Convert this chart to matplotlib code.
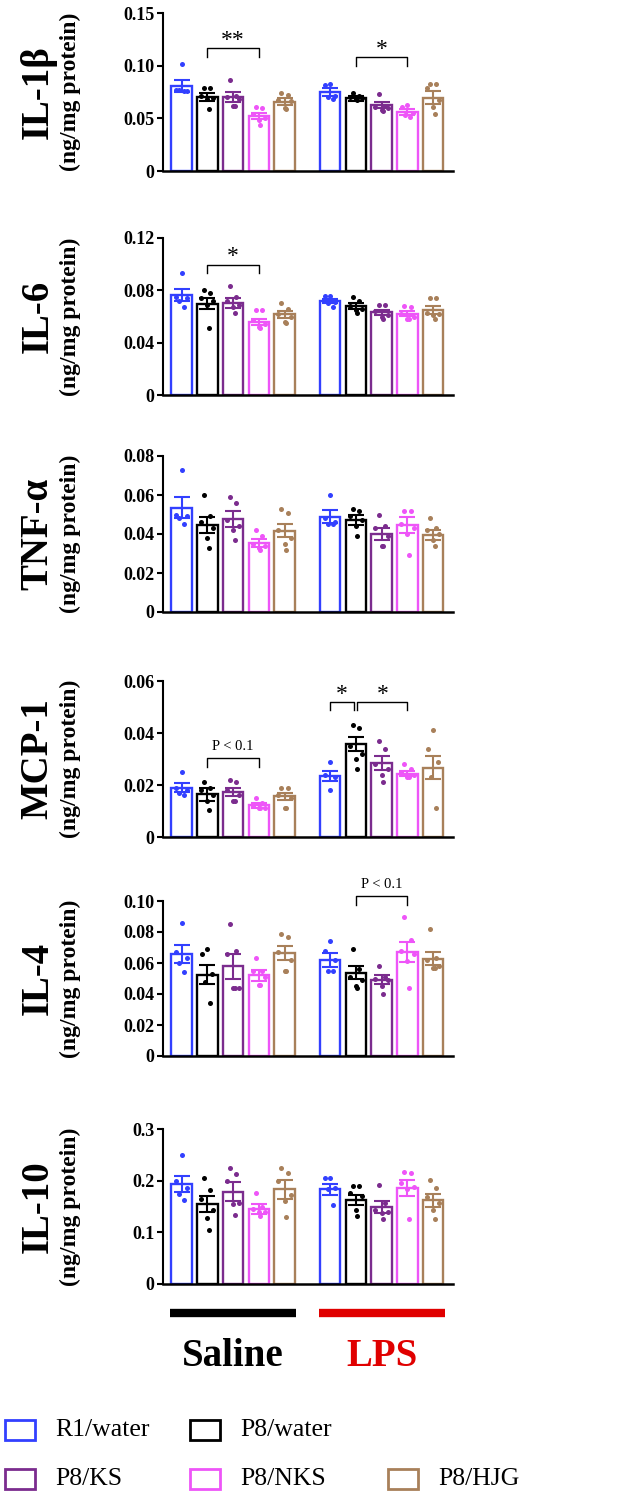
import numpy as np
import matplotlib
matplotlib.use('Agg')
import matplotlib.pyplot as plt
from matplotlib.patches import Rectangle
from matplotlib.transforms import blended_transform_factory

plt.rcParams['font.family'] = ['Liberation Serif', 'DejaVu Serif']

groups = ['R1/water', 'P8/water', 'P8/KS', 'P8/NKS', 'P8/HJG']
colors = ['#3240FF', '#000000', '#7B2C8E', '#EE55F8', '#A8805A']
conditions = ['Saline', 'LPS']
condition_colors = ['#000000', '#E00000']

cytokines = ['IL-1β', 'IL-6', 'TNF-α', 'MCP-1', 'IL-4', 'IL-10']
y_ticks = [[0, 0.05, 0.10, 0.15],
           [0, 0.04, 0.08, 0.12],
           [0, 0.02, 0.04, 0.06, 0.08],
           [0, 0.02, 0.04, 0.06],
           [0, 0.02, 0.04, 0.06, 0.08, 0.10],
           [0, 0.1, 0.2, 0.3]]
y_tick_labels = [['0', '0.05', '0.10', '0.15'],
                 ['0', '0.04', '0.08', '0.12'],
                 ['0', '0.02', '0.04', '0.06', '0.08'],
                 ['0', '0.02', '0.04', '0.06'],
                 ['0', '0.02', '0.04', '0.06', '0.08', '0.10'],
                 ['0', '0.1', '0.2', '0.3']]

# bar order: Saline (5 groups) then LPS (5 groups)
il1b_mean = [0.0807, 0.0706, 0.0700, 0.0520, 0.0658, 0.0747, 0.0690, 0.0627, 0.0563, 0.0696]
il1b_sem = [0.0057, 0.0038, 0.0047, 0.0027, 0.0032, 0.0038, 0.0022, 0.0031, 0.0027, 0.0060]
il1b_pts = [[0.102, 0.077, 0.076, 0.077, 0.076],
            [0.079, 0.079, 0.071, 0.069, 0.068, 0.059],
            [0.086, 0.071, 0.070, 0.068, 0.062, 0.062],
            [0.061, 0.060, 0.054, 0.050, 0.048, 0.044],
            [0.074, 0.072, 0.067, 0.066, 0.060, 0.059],
            [0.083, 0.082, 0.071, 0.070, 0.068],
            [0.074, 0.071, 0.070, 0.069, 0.068, 0.067],
            [0.073, 0.062, 0.061, 0.060, 0.058, 0.057],
            [0.063, 0.061, 0.055, 0.053, 0.051],
            [0.083, 0.083, 0.079, 0.067, 0.061, 0.054]]

il6_mean = [0.0762, 0.0698, 0.0703, 0.0558, 0.0617, 0.0718, 0.0680, 0.0632, 0.0622, 0.0652]
il6_sem = [0.0046, 0.0042, 0.0037, 0.0025, 0.0025, 0.0018, 0.0026, 0.0018, 0.0018, 0.0030]
il6_pts = [[0.093, 0.075, 0.074, 0.072, 0.067],
           [0.080, 0.078, 0.074, 0.072, 0.069, 0.051],
           [0.083, 0.075, 0.072, 0.069, 0.067, 0.063],
           [0.065, 0.065, 0.057, 0.054, 0.052, 0.051],
           [0.070, 0.066, 0.062, 0.060, 0.056, 0.055],
           [0.076, 0.076, 0.071, 0.070, 0.067],
           [0.075, 0.072, 0.068, 0.066, 0.065, 0.063],
           [0.069, 0.069, 0.064, 0.061, 0.060, 0.058],
           [0.068, 0.067, 0.062, 0.060, 0.058, 0.058],
           [0.074, 0.074, 0.063, 0.062, 0.061, 0.058]]

tnf_mean = [0.0535, 0.0446, 0.0479, 0.0352, 0.0417, 0.0489, 0.0472, 0.0398, 0.0446, 0.0395]
tnf_sem = [0.0053, 0.0043, 0.0041, 0.0021, 0.0034, 0.0034, 0.0025, 0.0031, 0.0039, 0.0025]
tnf_pts = [[0.073, 0.050, 0.049, 0.048, 0.045],
           [0.060, 0.049, 0.046, 0.043, 0.038, 0.033],
           [0.059, 0.056, 0.047, 0.044, 0.042, 0.037],
           [0.042, 0.039, 0.035, 0.034, 0.033, 0.032],
           [0.053, 0.051, 0.042, 0.038, 0.035, 0.032],
           [0.060, 0.048, 0.046, 0.045, 0.045],
           [0.053, 0.052, 0.049, 0.047, 0.044, 0.039],
           [0.050, 0.044, 0.043, 0.039, 0.034, 0.034],
           [0.052, 0.052, 0.045, 0.043, 0.040, 0.029],
           [0.048, 0.043, 0.042, 0.040, 0.037, 0.034]]

mcp1_mean = [0.0190, 0.0164, 0.0173, 0.0122, 0.0157, 0.0234, 0.0357, 0.0285, 0.0244, 0.0267]
mcp1_sem = [0.0018, 0.0026, 0.0017, 0.0009, 0.0013, 0.0020, 0.0028, 0.0026, 0.0010, 0.0044]
mcp1_pts = [[0.025, 0.019, 0.018, 0.017, 0.016],
            [0.021, 0.019, 0.018, 0.016, 0.014, 0.0105],
            [0.022, 0.021, 0.018, 0.016, 0.014, 0.014],
            [0.015, 0.013, 0.012, 0.011, 0.011, 0.011],
            [0.019, 0.019, 0.016, 0.015, 0.011, 0.011],
            [0.029, 0.024, 0.023, 0.018],
            [0.043, 0.042, 0.035, 0.032, 0.030, 0.026],
            [0.037, 0.034, 0.028, 0.026, 0.024, 0.021],
            [0.028, 0.026, 0.025, 0.024, 0.023, 0.023],
            [0.041, 0.034, 0.029, 0.023, 0.011]]

il4_mean = [0.0656, 0.0525, 0.0580, 0.0520, 0.0665, 0.0621, 0.0538, 0.0492, 0.0670, 0.0628]
il4_sem = [0.0058, 0.0060, 0.0080, 0.0037, 0.0045, 0.0044, 0.0040, 0.0028, 0.0065, 0.0042]
il4_pts = [[0.086, 0.067, 0.063, 0.060, 0.054],
           [0.069, 0.066, 0.053, 0.048, 0.034],
           [0.085, 0.068, 0.066, 0.044, 0.044, 0.044],
           [0.063, 0.055, 0.055, 0.051, 0.046, 0.046],
           [0.079, 0.077, 0.067, 0.062, 0.055, 0.055],
           [0.074, 0.068, 0.062, 0.055, 0.055],
           [0.069, 0.056, 0.051, 0.049, 0.045, 0.044],
           [0.058, 0.051, 0.050, 0.049, 0.045, 0.040],
           [0.090, 0.075, 0.068, 0.066, 0.061, 0.044],
           [0.082, 0.063, 0.062, 0.058, 0.057, 0.057]]

il10_mean = [0.194, 0.155, 0.179, 0.145, 0.183, 0.183, 0.163, 0.149, 0.186, 0.162]
il10_sem = [0.016, 0.016, 0.018, 0.009, 0.018, 0.010, 0.010, 0.011, 0.016, 0.013]
il10_pts = [[0.250, 0.199, 0.185, 0.175, 0.163],
            [0.205, 0.181, 0.165, 0.144, 0.128, 0.105],
            [0.224, 0.213, 0.199, 0.157, 0.155, 0.134],
            [0.176, 0.150, 0.145, 0.140, 0.140, 0.131],
            [0.224, 0.214, 0.200, 0.173, 0.160, 0.130],
            [0.205, 0.205, 0.186, 0.183, 0.152],
            [0.189, 0.189, 0.176, 0.170, 0.144, 0.132],
            [0.192, 0.157, 0.144, 0.140, 0.137, 0.125],
            [0.216, 0.214, 0.195, 0.188, 0.183, 0.126],
            [0.201, 0.186, 0.168, 0.157, 0.144, 0.126]]

means = [il1b_mean, il6_mean, tnf_mean, mcp1_mean, il4_mean, il10_mean]
sems = [il1b_sem, il6_sem, tnf_sem, mcp1_sem, il4_sem, il10_sem]
points = [il1b_pts, il6_pts, tnf_pts, mcp1_pts, il4_pts, il10_pts]

# (panel, bar a, bar b, bracket height, label)
sig_marks = [(0, 1, 3, 0.1165, '**'),
             (0, 6, 8, 0.1080, '*'),
             (1, 1, 3, 0.0996, '*'),
             (3, 1, 3, 0.0302, 'P < 0.1'),
             (3, 5, 6, 0.0520, '*'),
             (3, 6, 8, 0.0520, '*'),
             (4, 6, 8, 0.1030, 'P < 0.1')]

W, H = 620, 1498
fig = plt.figure(figsize=(W / 100, H / 100), dpi=100)

x_pos = np.concatenate([np.arange(5), 5.77 + np.arange(5)])
axis_bottom_px = [171, 395, 612, 837, 1056, 1284]
axis_top_px = [13, 238, 456, 681, 901, 1129]
jitter = {4: [0.0, -0.2, 0.2, 0.0],
          5: [0.0, -0.2, 0.2, -0.1, 0.1],
          6: [-0.12, 0.12, -0.24, 0.24, 0.0, 0.06]}

axes = []
for k, name in enumerate(cytokines):
    y0, y1 = axis_bottom_px[k], axis_top_px[k]
    ax = fig.add_axes([163 / W, 1 - y0 / H, 290 / W, (y0 - y1) / H])
    axes.append(ax)
    for i in range(10):
        c = colors[i % 5]
        ax.bar(x_pos[i], means[k][i], width=0.8, facecolor='white',
               edgecolor=c, linewidth=1.7, zorder=2)
        ax.errorbar(x_pos[i], means[k][i], yerr=sems[k][i], fmt='none',
                    ecolor=c, elinewidth=1.5, capsize=5.5, capthick=1.5, zorder=3)
        pts = points[k][i]
        ax.scatter(x_pos[i] + np.array(jitter[len(pts)]), pts, s=13,
                   color=c, linewidths=0, zorder=4)
    ax.set_xlim(-0.72, 10.54)
    ax.set_ylim(0, y_ticks[k][-1])
    ax.set_xticks([])
    ax.set_yticks(y_ticks[k])
    ax.set_yticklabels(y_tick_labels[k], fontsize=13, fontweight='bold')
    ax.tick_params(axis='y', direction='out', length=4, width=1.5, pad=2)
    for s in ['top', 'right']:
        ax.spines[s].set_visible(False)
    ax.spines['left'].set_linewidth(1.5)
    ax.spines['bottom'].set_linewidth(1.8)
    yc = 1 - (y0 + y1) / 2 / H
    fig.text(38 / W, yc, name, rotation=90, fontsize=28, fontweight='bold',
             ha='center', va='center')
    fig.text(70 / W, yc, '(ng/mg protein)', rotation=90, fontsize=17,
             fontweight='bold', ha='center', va='center')

# significance brackets
leg = {k: y_ticks[k][-1] * 0.055 for k in range(6)}
for k, a, b, yb, label in sig_marks:
    ax = axes[k]
    xa, xb = x_pos[a], x_pos[b]
    # keep a small gap where two brackets share one bar
    if (k, a) == (3, 6):
        xa += 0.06
    if (k, b) == (3, 6):
        xb -= 0.06
    ax.plot([xa, xa, xb, xb], [yb - leg[k], yb, yb, yb - leg[k]],
            color='black', linewidth=1.0, clip_on=False)
    if label.startswith('P'):
        ax.annotate(label, ((xa + xb) / 2, yb), xytext=(0, 4),
                    textcoords='offset points', ha='center', va='bottom',
                    fontsize=10.5, annotation_clip=False)
    else:
        ax.annotate(label, ((xa + xb) / 2, yb), xytext=(0, -2),
                    textcoords='offset points', ha='center', va='bottom',
                    fontsize=17, annotation_clip=False)

# condition bars and labels under the last panel
ax = axes[-1]
tr = blended_transform_factory(ax.transData, fig.transFigure)
for g in range(2):
    xs = x_pos[g * 5:(g + 1) * 5]
    ax.plot([xs[0] - 0.45, xs[-1] + 0.45], [1 - 1313 / H] * 2, color=condition_colors[g],
            linewidth=6, solid_capstyle='butt', transform=tr, clip_on=False)
    ax.text(xs.mean(), 1 - 1357 / H, conditions[g], transform=tr, ha='center',
            va='center', fontsize=28, fontweight='bold', color=condition_colors[g])

# legend
legend_cells = [(0, 0), (1, 0), (0, 1), (1, 1), (2, 1)]
col_px = [5, 190, 388]
row_px = [1430, 1479]
for g, (col, row) in enumerate(legend_cells):
    x0 = col_px[col]
    yc = row_px[row]
    fig.patches.append(Rectangle((x0 / W, 1 - (yc + 10) / H), 30 / W, 20 / H,
                                 facecolor='white', edgecolor=colors[g], linewidth=2.0,
                                 transform=fig.transFigure))
    fig.text((x0 + 50) / W, 1 - yc / H, groups[g], fontsize=18.5, ha='left', va='center')

fig.savefig('out.png', dpi=100)
